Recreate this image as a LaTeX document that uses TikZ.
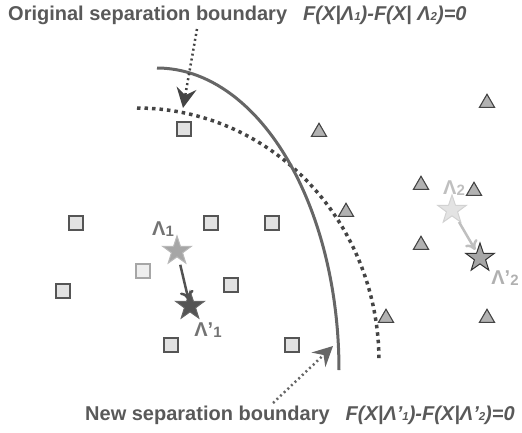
\documentclass[tikz,border=0pt]{standalone}
\usepackage{fontspec}
\setmainfont{Liberation Sans}
\usetikzlibrary{shapes.geometric,arrows.meta,calc}

\definecolor{txtgray}{HTML}{595959}
\definecolor{sqfill}{HTML}{E2E2E2}
\definecolor{sqedge}{HTML}{555555}
\definecolor{trifill}{HTML}{B2B2B2}
\definecolor{triedge}{HTML}{444444}
\definecolor{solidline}{HTML}{666666}
\definecolor{dotline}{HTML}{444444}

\newcommand{\idx}[1]{\raisebox{-0.5pt}{\fontsize{11.5}{11.5}\selectfont #1}}
\newcommand{\lidx}[1]{\raisebox{-0.5pt}{\fontsize{15}{15}\selectfont #1}}

\begin{document}
\begin{tikzpicture}[x=1pt,y=-1pt,
  sq/.style={rectangle, draw=sqedge, fill=sqfill, line width=1.2pt,
             minimum size=14pt, inner sep=0pt},
  sqlight/.style={sq, draw=gray!70, fill=sqfill!60},
  tri/.style={regular polygon, regular polygon sides=3, draw=triedge,
              fill=trifill, line width=1.1pt, minimum size=17.5pt, inner sep=0pt},
  starnode/.style={star, star points=5, star point ratio=2.55,
                   minimum size=30pt, inner sep=0pt, line width=1pt},
  lam/.style={inner sep=0pt, font=\bfseries\fontsize{20}{20}\selectfont},
  title/.style={inner sep=0pt, anchor=base west, text=txtgray,
                font=\bfseries\fontsize{20}{20}\selectfont},
  pointer/.style={line width=2.5pt, dash pattern=on 2pt off 3pt},
  moveto/.style={line width=2.5pt, -{To[length=9pt,width=14pt,line width=2.5pt]}},
  oldbound/.style={dotline, line width=3.5pt, dash pattern=on 3.5pt off 4pt},
  newbound/.style={solidline, line width=3pt}
]
\useasboundingbox (0,0) rectangle (522,432);

% captions
\node[title] (oldcap) at (8,20)
  {Original separation boundary\hspace{16pt}\textit{F(X|Λ\idx{1})-F(X| Λ\idx{2})=0}};
\node[title] (newcap) at (85,420)
  {New separation boundary\hspace{16pt}\textit{F(X|Λ’\idx{1})-F(X|Λ’\idx{2})=0}};

% decision boundaries
\draw[oldbound] plot[domain=90:0, samples=80]
  ({137+242*cos(\x)},{361-253*sin(\x)});
\draw[newbound] plot[domain=90:0, samples=80]
  ({157+182*cos(\x)},{370-302*sin(\x)});

% class 1 samples
\node[sq] (q1) at (184,129) {};
\node[sq] (q2) at (76,223) {};
\node[sq] (q3) at (211,223) {};
\node[sq] (q4) at (272,223) {};
\node[sqlight] (q5) at (143,271) {};
\node[sq] (q6) at (231,285) {};
\node[sq] (q7) at (63,291) {};
\node[sq] (q8) at (171,345) {};
\node[sq] (q9) at (292,345) {};

% class 2 samples
\node[tri] (t1) at (319,132) {};
\node[tri] (t2) at (487,103) {};
\node[tri] (t3) at (421,185) {};
\node[tri] (t4) at (474,191) {};
\node[tri] (t5) at (346,212) {};
\node[tri] (t6) at (421,245) {};
\node[tri] (t7) at (386,318) {};
\node[tri] (t8) at (487,318) {};

% model parameters before and after training
\node[starnode, fill=gray!70, draw=gray!55] (s1) at (177,251) {};
\node[starnode, fill=black!67, draw=black!60] (s1p) at (190,306) {};
\node[starnode, fill=gray!22, draw=gray!35] (s2) at (452,210) {};
\node[starnode, fill=gray!70, draw=black!80] (s2p) at (480,258) {};

\node[lam, text=black!55] (l1) at (163,229) {Λ\lidx{1}};
\node[lam, text=black!55] (l1p) at (208,330) {Λ’\lidx{1}};
\node[lam, text=gray!50] (l2) at (454,188) {Λ\lidx{2}};
\node[lam, text=gray!62] (l2p) at (505,278) {Λ’\lidx{2}};

\draw[moveto, black!68] ($(s1)!0.25!(s1p)$) -- ($(s1)!0.89!(s1p)$);
\draw[moveto, gray!50] ($(s2)!0.25!(s2p)$) -- ($(s2)!0.83!(s2p)$);

% pointers from captions to boundaries
\coordinate (p1a) at (197,29);
\coordinate (p1b) at (183,108);
\coordinate (p2a) at (273,403);
\coordinate (p2b) at (333,346);
\draw[pointer, dotline, -{Stealth[length=20pt,width=20pt,inset=7pt]}] (p1a) -- (p1b);
\draw[pointer, solidline, -{Stealth[length=20pt,width=20pt,inset=7pt]}] (p2a) -- (p2b);
\end{tikzpicture}
\end{document}
